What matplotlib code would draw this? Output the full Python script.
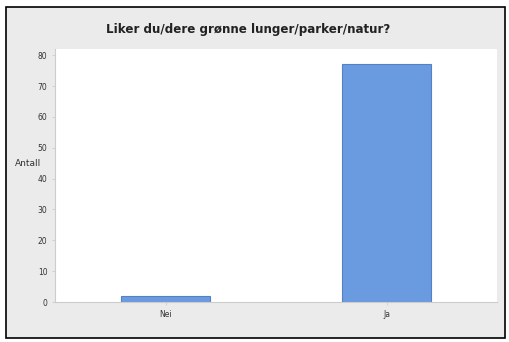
import matplotlib.pyplot as plt
from matplotlib.patches import Rectangle

categories = ["Nei", "Ja"]
counts = [2, 77]
yticks = [0, 10, 20, 30, 40, 50, 60, 70, 80]

W, H = 510, 342
fig = plt.figure(figsize=(W / 100, H / 100), dpi=100)
fig.patch.set_facecolor("white")

# grey panel with a black frame around the whole chart
frame = Rectangle((6 / W, 1 - 338 / H), 499 / W, 331 / H, transform=fig.transFigure,
                  facecolor="#ebebeb", edgecolor="black", linewidth=1.2, zorder=-10)
fig.patches.append(frame)

ax = fig.add_axes([55 / W, 1 - 302 / H, 442 / W, 253 / H])
ax.set_zorder(1)
ax.set_facecolor("white")

ax.bar(range(len(categories)), counts, width=0.4, color="#6a9be0",
       edgecolor="#5581c4", linewidth=0.8, zorder=2)

ax.set_xlim(-0.5, 1.5)
ax.set_ylim(0, 82)
ax.set_xticks(range(len(categories)))
ax.set_xticklabels(categories)
ax.set_yticks(yticks)
ax.tick_params(axis="both", labelsize=5.5, colors="#333333", length=2, width=0.6)
ax.tick_params(axis="both", color="#cccccc")

for side in ["top", "right"]:
    ax.spines[side].set_visible(False)
for side in ["left", "bottom"]:
    ax.spines[side].set_color("#cccccc")
    ax.spines[side].set_linewidth(0.8)

ax.set_ylabel("Antall", rotation=0, fontsize=6.5, color="#333333")
ax.yaxis.set_label_coords(-0.06, 0.53)

fig.text(248 / W, 1 - 30 / H, "Liker du/dere grønne lunger/parker/natur?",
         ha="center", va="center", fontsize=8.6, fontweight="bold", color="#222222",
         zorder=5)

fig.savefig("out.png", dpi=100, facecolor=fig.get_facecolor())
